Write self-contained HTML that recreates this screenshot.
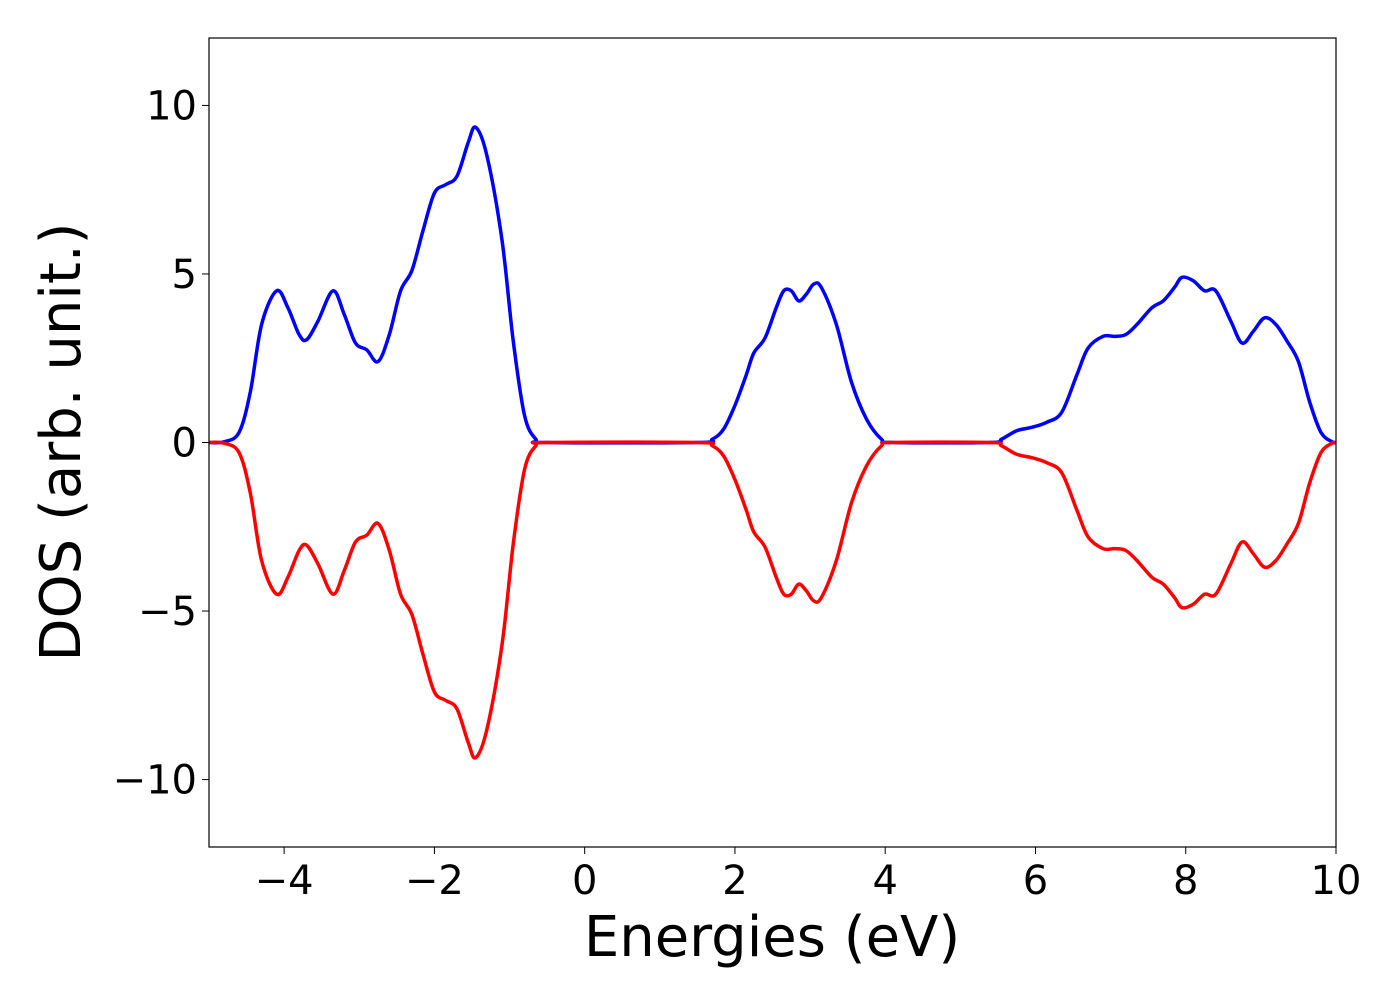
<!DOCTYPE html>
<html><head><meta charset="utf-8"><style>
html,body{margin:0;padding:0;background:#fff;}
svg{display:block;font-family:"DejaVu Sans","Liberation Sans",sans-serif;}
</style></head><body>
<svg id="chart" width="1400" height="1000" viewBox="0 0 1400 1000" xmlns="http://www.w3.org/2000/svg">
<rect x="0" y="0" width="1400" height="1000" fill="#fff"/>
<g id="plot"></g>
<rect x="209" y="38" width="1127" height="809" fill="none" stroke="#000" stroke-width="1.2"/>
<g id="xt"></g><g id="yt"></g>
<text x="772" y="956" font-size="56" text-anchor="middle">Energies (eV)</text>
<text transform="translate(80,442) rotate(-90)" font-size="56" text-anchor="middle">DOS (arb. unit.)</text>
</svg>
<script>
const energies=[-5,-4.8,-4.6,-4.45,-4.3,-4.1,-3.95,-3.8,-3.7,-3.55,-3.35,-3.2,-3.05,-2.9,-2.75,-2.6,-2.45,-2.3,-2.15,-2.0,-1.85,-1.7,-1.55,-1.45,-1.3,-1.1,-0.95,-0.8,-0.65,-0.5,1.5,1.7,1.85,2.0,2.15,2.25,2.4,2.55,2.65,2.75,2.85,2.95,3.05,3.15,3.35,3.55,3.75,3.95,4.1,5.4,5.55,5.75,5.95,6.15,6.35,6.55,6.7,6.9,7.05,7.2,7.35,7.55,7.7,7.85,7.95,8.1,8.25,8.4,8.6,8.75,8.9,9.05,9.2,9.35,9.5,9.65,9.8,9.95,10];
const dosUp=[0,0.02,0.3,1.5,3.5,4.5,4.0,3.2,3.05,3.6,4.5,3.8,2.95,2.75,2.4,3.2,4.5,5.1,6.3,7.4,7.65,7.9,8.9,9.35,8.5,6.0,3.0,0.8,0.1,0,0,0.1,0.4,1.1,2.0,2.65,3.1,4.0,4.5,4.5,4.2,4.4,4.7,4.6,3.5,1.8,0.7,0.1,0,0,0.1,0.35,0.45,0.6,0.9,2.0,2.8,3.15,3.15,3.2,3.5,4.0,4.2,4.6,4.9,4.8,4.5,4.5,3.6,2.95,3.3,3.7,3.5,3.0,2.4,1.2,0.3,0.02,0];
const dosDown=dosUp.map(v=>-v);
const xTicks=[-4,-2,0,2,4,6,8,10];
const yTicks=[-10,-5,0,5,10];
const xTickLabels=["\u22124","\u22122","0","2","4","6","8","10"];
const yTickLabels=["\u221210","\u22125","0","5","10"];
const X0=209,X1=1336,Y0=38,Y1=847,xmin=-5,xmax=10,ymin=-12,ymax=12;
const sx=v=>X0+(v-xmin)/(xmax-xmin)*(X1-X0);
const sy=v=>Y1-(v-ymin)/(ymax-ymin)*(Y1-Y0);
const NS="http://www.w3.org/2000/svg";
function path(xs,ys){const p=xs.map((x,i)=>[sx(x),sy(ys[i])]);let d="M"+p[0][0]+","+p[0][1];
for(let i=0;i<p.length-1;i++){const a=p[Math.max(i-1,0)],b=p[i],c=p[i+1],e=p[Math.min(i+2,p.length-1)];
const c1=[b[0]+(c[0]-a[0])/6,b[1]+(c[1]-a[1])/6],c2=[c[0]-(e[0]-b[0])/6,c[1]-(e[1]-b[1])/6];
d+=` C${c1[0]},${c1[1]} ${c2[0]},${c2[1]} ${c[0]},${c[1]}`;}return d;}
const plot=document.getElementById('plot');
[[dosUp,'#0000ff','dos-spin-up'],[dosDown,'#ff0000','dos-spin-down']].forEach(([ys,col,nm])=>{
const el=document.createElementNS(NS,'path');el.setAttribute('d',path(energies,ys));el.setAttribute('fill','none');el.setAttribute('stroke',col);el.setAttribute('stroke-width','3.5');


plot.appendChild(el);});
const xt=document.getElementById('xt');
xTicks.forEach((t,i)=>{const l=document.createElementNS(NS,'line');l.setAttribute('x1',sx(t));l.setAttribute('x2',sx(t));l.setAttribute('y1',Y1);l.setAttribute('y2',Y1+7);l.setAttribute('stroke','#000');


xt.appendChild(l);
const tx=document.createElementNS(NS,'text');tx.setAttribute('x',sx(t));tx.setAttribute('y',894);tx.setAttribute('font-size','40');tx.setAttribute('text-anchor','middle');tx.textContent=xTickLabels[i];


xt.appendChild(tx);});
const yt=document.getElementById('yt');
yTicks.forEach((t,i)=>{const l=document.createElementNS(NS,'line');l.setAttribute('x1',X0-7);l.setAttribute('x2',X0);l.setAttribute('y1',sy(t));l.setAttribute('y2',sy(t));l.setAttribute('stroke','#000');


yt.appendChild(l);
const tx=document.createElementNS(NS,'text');tx.setAttribute('x',X0-12);tx.setAttribute('y',sy(t)+14);tx.setAttribute('font-size','40');tx.setAttribute('text-anchor','end');tx.textContent=yTickLabels[i];


yt.appendChild(tx);});
</script>
</body></html>
